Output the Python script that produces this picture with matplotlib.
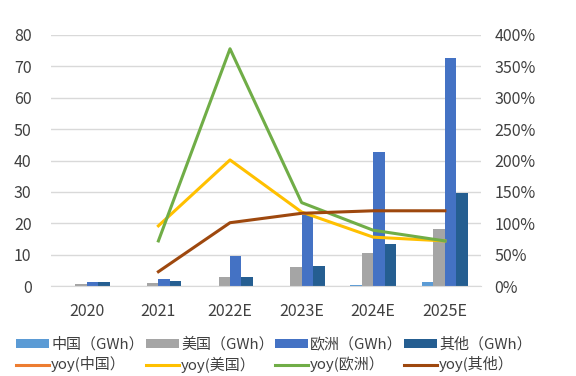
import matplotlib.pyplot as plt
import numpy as np

plt.rcParams['font.family'] = ['Noto Sans CJK SC', 'DejaVu Sans']

years = ['2020', '2021', '2022E', '2023E', '2024E', '2025E']
china = [0, 0, 0, 0, 0.5, 1.2]
usa = [0.6, 1.0, 2.9, 6.1, 10.5, 18.2]
europe = [1.3, 2.2, 9.7, 22.6, 42.7, 72.8]
other = [1.3, 1.6, 2.9, 6.3, 13.4, 29.6]

# yoy (%) from 2021 onward
yoy_china = [np.nan] * 6
yoy_usa = [np.nan, 96, 201, 118, 78, 72]
yoy_europe = [np.nan, 72, 378, 133, 89, 72]
yoy_other = [np.nan, 23, 101, 116, 120, 120]

bar_names = ['中国（GWh）', '美国（GWh）', '欧洲（GWh）', '其他（GWh）']
bar_colors = ['#5B9BD5', '#A5A5A5', '#4472C4', '#255E91']
line_names = ['yoy(中国）', 'yoy(美国）', 'yoy(欧洲）', 'yoy(其他）']
line_colors = ['#ED7D31', '#FFC000', '#70AD47', '#9E480E']

fig = plt.figure(figsize=(5.76, 3.76), dpi=100)
ax = fig.add_axes([0.0885, 0.239, 0.746, 0.668])
ax2 = ax.twinx()

x = np.arange(len(years))
w = 0.16
bars = []
lines = []
for i, (vals, c, n) in enumerate(zip([china, usa, europe, other], bar_colors, bar_names)):
    b = ax.bar(x + (i - 1.5) * w, vals, w, color=c, label=n, zorder=2)
    bars.append(b)
for vals, c, n in zip([yoy_china, yoy_usa, yoy_europe, yoy_other], line_colors, line_names):
    l, = ax2.plot(x, vals, color=c, lw=2.2, label=n, zorder=3)
    lines.append(l)

ax.set_xlim(-0.5, 5.5)
ax.set_ylim(0, 80)
ax.set_yticks(range(0, 81, 10))
ax2.set_ylim(0, 400)
ax2.set_yticks(range(0, 401, 50))
ax2.set_yticklabels([f'{v}%' for v in range(0, 401, 50)])
ax.set_xticks(x)
ax.set_xticklabels(years)
ax.yaxis.grid(True, color='#D9D9D9', lw=1, zorder=0)
ax.set_axisbelow(True)

for a in (ax, ax2):
    for s in a.spines.values():
        s.set_visible(False)
    a.tick_params(length=0, labelsize=11.5, colors='#404040')
ax.spines['bottom'].set_visible(True)
ax.spines['bottom'].set_color('#D9D9D9')
ax.tick_params(axis='x', pad=12)
ax.tick_params(axis='y', pad=14)
ax2.tick_params(axis='y', pad=10)

# one small legend per column so the columns sit on an even grid
col_x = [16, 146, 275, 404]
for cx, b, l in zip(col_x, bars, lines):
    leg = fig.legend(handles=[b, l], loc='center left',
                     bbox_to_anchor=(cx / 576, 1 - 355 / 376),
                     frameon=False, fontsize=10.8, handlelength=2.2,
                     handleheight=0.55, handletextpad=0.15, labelspacing=0.3,
                     borderpad=0, borderaxespad=0, labelcolor='#404040')

fig.savefig('out.png', dpi=100)
